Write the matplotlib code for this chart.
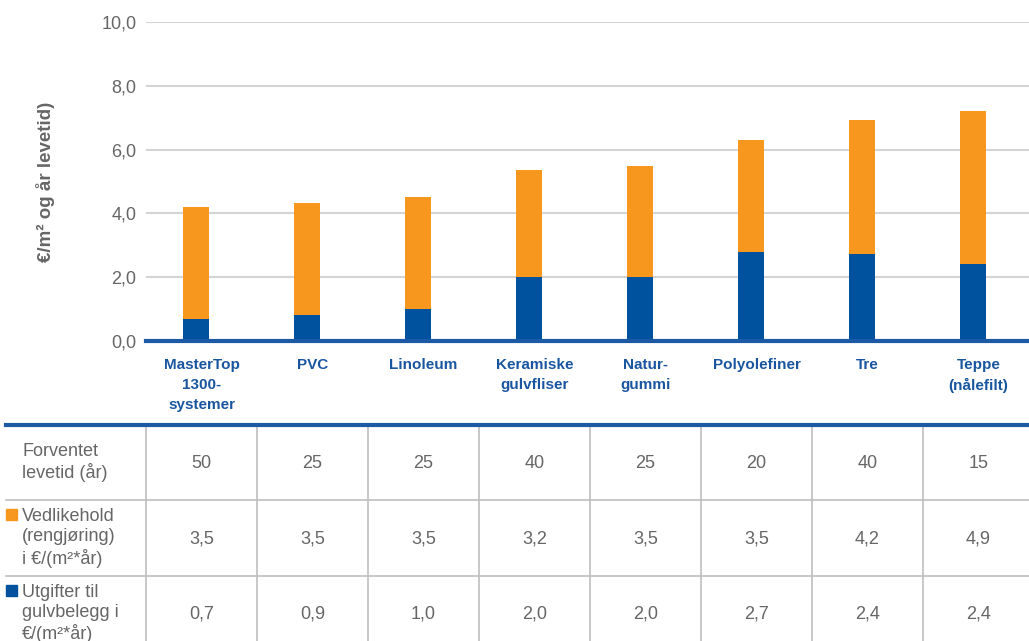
import matplotlib.pyplot as plt
from matplotlib.patches import Rectangle

plt.rcParams['font.family'] = ['Liberation Sans', 'DejaVu Sans']

# Data
kategorier = ['MasterTop\n1300-\nsystemer', 'PVC', 'Linoleum', 'Keramiske\ngulvfliser',
              'Natur-\ngummi', 'Polyolefiner', 'Tre', 'Teppe\n(nålefilt)']
gulvbelegg = [0.7, 0.83, 1.0, 2.0, 2.0, 2.8, 2.73, 2.4]      # blue part
vedlikehold = [3.5, 3.5, 3.5, 3.35, 3.5, 3.5, 4.2, 4.8]      # orange part
levetid_txt = ['50', '25', '25', '40', '25', '20', '40', '15']
vedlikehold_txt = ['3,5', '3,5', '3,5', '3,2', '3,5', '3,5', '4,2', '4,9']
gulvbelegg_txt = ['0,7', '0,9', '1,0', '2,0', '2,0', '2,7', '2,4', '2,4']
rad_titler = ['Forventet\nlevetid (år)', 'Vedlikehold\n(rengjøring)\ni €/(m²*år)',
              'Utgifter til\ngulvbelegg i\n€/(m²*år)']
y_ticks = [0, 2, 4, 6, 8, 10]

BLAA = '#00519E'
ORANSJE = '#F7971E'
LINJE_BLAA = '#1D5AA6'
GRAA_TEKST = '#666666'
GRID = '#D4D4D4'

W, H = 1029, 641
fig = plt.figure(figsize=(W / 100, H / 100), dpi=100)

# pixel positions of the plot area
x0, x1 = 146, 1029
y_top, y_bot = 22, 341
ax = fig.add_axes([x0 / W, 1 - y_bot / H, (x1 - x0) / W, (y_bot - y_top) / H])

n = len(kategorier)
pos = list(range(n))
xmin, xmax = -0.5, -0.5 + (x1 - x0) / 111
bar_pos = [p - 0.05 for p in pos]
ax.bar(bar_pos, gulvbelegg, width=0.24, color=BLAA, zorder=3)
ax.bar(bar_pos, vedlikehold, width=0.24, bottom=gulvbelegg, color=ORANSJE, zorder=3)

ax.set_xlim(xmin, xmax)
ax.set_ylim(0, 10)
ax.set_yticks(y_ticks)
ax.set_yticklabels([f'{v:.1f}'.replace('.', ',') for v in y_ticks], color=GRAA_TEKST, fontsize=13)
ax.tick_params(axis='y', length=0, pad=7)
ax.grid(axis='y', color=GRID, linewidth=1.5, zorder=0)
for s in ['top', 'right', 'left']:
    ax.spines[s].set_visible(False)
ax.spines['bottom'].set_color(LINJE_BLAA)
ax.spines['bottom'].set_linewidth(3)
ax.spines['bottom'].set_zorder(4)

ax.set_xticks(pos)
ax.set_xticklabels(kategorier, fontsize=11, fontweight='bold', color='#1A56A0', linespacing=1.55)
ax.tick_params(axis='x', length=0, pad=12)

fig.text(46 / W, 1 - 182 / H, '€/m² og år levetid)', rotation=90, ha='center', va='center',
         fontsize=13.5, fontweight='bold', color=GRAA_TEKST)

# table under the chart
t_top = 424.7
rad_h = 75.5
tab = fig.add_axes([x0 / W, 0, (x1 - x0) / W, (H - t_top) / H])
tab.set_xlim(xmin, xmax)
tab.set_ylim((H - t_top) / rad_h, 0)
tab.axis('off')

venstre = -0.5 + (6 - x0) / 111
tab.plot([venstre, xmax], [0, 0], color=LINJE_BLAA, linewidth=3, clip_on=False, zorder=4)
for r in [1, 2]:
    tab.plot([venstre, xmax], [r, r], color='#BFBFBF', linewidth=1.2, clip_on=False)
for i in range(n):
    tab.plot([i - 0.5, i - 0.5], [0, 3], color='#BFBFBF', linewidth=1.2, clip_on=False)

for r, verdier in enumerate([levetid_txt, vedlikehold_txt, gulvbelegg_txt]):
    for i, v in enumerate(verdier):
        tab.text(i, r + 0.51, v, ha='center', va='center', fontsize=13, color=GRAA_TEKST)

tekst_x = -0.5 + (22 - x0) / 111
for r, tittel in enumerate(rad_titler):
    tab.text(tekst_x, r + 0.5, tittel, ha='left', va='center', fontsize=13,
             color=GRAA_TEKST, linespacing=1.22, clip_on=False)

# legend squares in front of the row titles
for r, farge in [(1, ORANSJE), (2, BLAA)]:
    tab.add_patch(Rectangle((venstre, r + 0.12), 11 / 111, 11 / rad_h, color=farge, clip_on=False))

fig.savefig('out.png', dpi=100)
